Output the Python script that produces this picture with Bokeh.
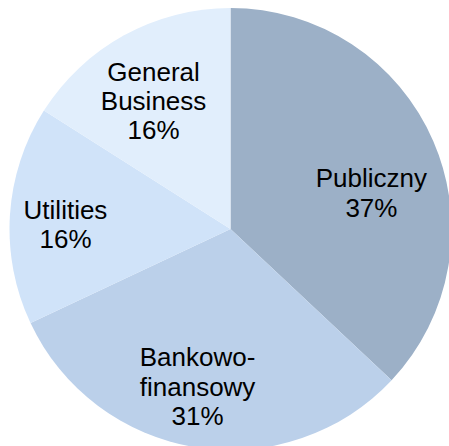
import math
from bokeh.plotting import figure
from bokeh.models import ColumnDataSource, Range1d
from bokeh.core.properties import value
from bokeh.embed import file_html
from bokeh.resources import INLINE

# ---- data ----
categories = ["Publiczny", "Bankowo-\nfinansowy", "Utilities", "General\nBusiness"]
shares = [37, 31, 16, 16]
colors = ["#9CB0C7", "#BBD0EA", "#D0E3F9", "#E1EEFC"]

# ---- layout (label placement relative to slice mid-angle) ----
label_r = [0.658, 0.729, 0.747, 0.676]       # fraction of pie radius
label_da = [-9.1, -2.8, 2.0, 2.2]            # degrees nudge from mid-angle

W, H = 449, 446
R_PX = 221.0
CX, CY = 230.0, 228.5  # pie center in figure pixels (from top-left)

total = float(sum(shares))
starts, ends, lx, ly, labels = [], [], [], [], []
cum = 0.0
for i, s in enumerate(shares):
    a0 = cum / total * 2 * math.pi
    cum += s
    a1 = cum / total * 2 * math.pi
    # clockwise from 12 o'clock -> bokeh ccw from +x
    starts.append(math.pi / 2 - a1)
    ends.append(math.pi / 2 - a0)
    mid = math.pi / 2 - (a0 + a1) / 2 + math.radians(label_da[i])
    lx.append(label_r[i] * math.cos(mid))
    ly.append(label_r[i] * math.sin(mid))
    labels.append(f"{categories[i]}\n{round(s / total * 100)}%")

src = ColumnDataSource(dict(start=starts, end=ends, color=colors,
                            lx=lx, ly=ly, label=labels))

p = figure(width=W, height=H, output_backend="svg", toolbar_location=None,
           x_range=Range1d(-CX / R_PX, (W - CX) / R_PX),
           y_range=Range1d(-(H - CY) / R_PX, CY / R_PX),
           min_border=0, outline_line_color=None, match_aspect=False)
p.axis.visible = False
p.grid.visible = False
p.background_fill_color = "white"
p.border_fill_color = "white"

p.wedge(x=0, y=0, radius=1.0, start_angle="start", end_angle="end",
        fill_color="color", line_color=None, source=src)

p.text(x="lx", y="ly", text="label", source=src,
       text_font=value("Liberation Sans"), text_font_size="26px",
       text_color="#000000", text_align="center", text_baseline="middle",
       text_line_height=0.98)

open("out.html", "w").write(file_html(p, INLINE))
